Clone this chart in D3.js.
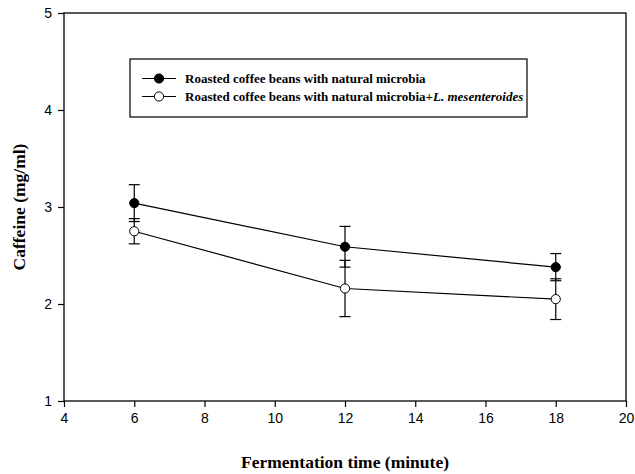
<!DOCTYPE html>
<html>
<head>
<meta charset="utf-8">
<script src="https://cdn.jsdelivr.net/npm/d3@7"></script>
<style>
  body { margin: 0; background: #fff; }
  svg { display: block; }
</style>
</head>
<body>
<div id="chart"></div>
<script>
// Input data for the chart
const times = [6, 12, 18];
const natural = [3.04, 2.59, 2.38];
const naturalErr = [0.19, 0.21, 0.14];
const mixed = [2.75, 2.16, 2.05];
const mixedErr = [0.13, 0.29, 0.21];
const xTicks = [4, 6, 8, 10, 12, 14, 16, 18, 20];
const yTicks = [1, 2, 3, 4, 5];

const width = 635;
const height = 474;
const margin = { top: 13, right: 9, bottom: 73, left: 64 };

const svg = d3.select("#chart")
  .append("svg")
  .attr("width", width)
  .attr("height", height);

const x = d3.scaleLinear().domain([4, 20]).range([margin.left, width - margin.right]);
const y = d3.scaleLinear().domain([1, 5]).range([height - margin.bottom, margin.top]);

// plot frame
svg.append("rect")
  .attr("x", margin.left)
  .attr("y", margin.top)
  .attr("width", x(20) - x(4))
  .attr("height", y(1) - y(5))
  .attr("fill", "none")
  .attr("stroke", "#000")
  .attr("stroke-width", 1.3);

// axes
const xAxis = svg.append("g")
  .attr("transform", `translate(0, ${y(1)})`)
  .call(d3.axisBottom(x).tickValues(xTicks).tickSize(6).tickPadding(6).tickFormat(d3.format("d")));
const yAxis = svg.append("g")
  .attr("transform", `translate(${x(4)}, 0)`)
  .call(d3.axisLeft(y).tickValues(yTicks).tickSize(6).tickPadding(6).tickFormat(d3.format("d")));

[xAxis, yAxis].forEach(g => {
  g.select(".domain").remove();
  g.selectAll(".tick line").attr("stroke", "#000").attr("stroke-width", 1.2);
  g.selectAll(".tick text")
    .attr("fill", "#000")
    .style("font-family", "'Liberation Sans', Arial, sans-serif")
    .style("font-size", "14px");
});

// axis titles
svg.append("text")
  .attr("x", (x(4) + x(20)) / 2)
  .attr("y", 468)
  .attr("text-anchor", "middle")
  .style("font-family", "'Liberation Serif', 'Times New Roman', serif")
  .style("font-weight", "bold")
  .style("font-size", "17.5px")
  .text("Fermentation time (minute)");

svg.append("text")
  .attr("transform", `translate(25, ${(y(1) + y(5)) / 2}) rotate(-90)`)
  .attr("text-anchor", "middle")
  .style("font-family", "'Liberation Serif', 'Times New Roman', serif")
  .style("font-weight", "bold")
  .style("font-size", "17.5px")
  .text("Caffeine (mg/ml)");

// function to draw one series with error bars
function drawSeries(values, errs, fill) {
  const pts = times.map((t, i) => ({ t: t, v: values[i], e: errs[i] }));
  const g = svg.append("g");

  g.append("path")
    .datum(pts)
    .attr("fill", "none")
    .attr("stroke", "#000")
    .attr("stroke-width", 1.2)
    .attr("d", d3.line().x(d => x(d.t)).y(d => y(d.v)));

  const eb = g.selectAll(".err").data(pts).enter().append("g");
  eb.append("line")
    .attr("x1", d => x(d.t)).attr("x2", d => x(d.t))
    .attr("y1", d => y(d.v - d.e)).attr("y2", d => y(d.v + d.e))
    .attr("stroke", "#000").attr("stroke-width", 1.2);
  [-1, 1].forEach(s => {
    eb.append("line")
      .attr("x1", d => x(d.t) - 5.5).attr("x2", d => x(d.t) + 5.5)
      .attr("y1", d => y(d.v + s * d.e)).attr("y2", d => y(d.v + s * d.e))
      .attr("stroke", "#000").attr("stroke-width", 1.2);
  });

  g.selectAll(".pt").data(pts).enter().append("circle")
    .attr("cx", d => x(d.t))
    .attr("cy", d => y(d.v))
    .attr("r", 4.6)
    .attr("fill", fill)
    .attr("stroke", "#000")
    .attr("stroke-width", 1);
}

drawSeries(mixed, mixedErr, "#fff");
drawSeries(natural, naturalErr, "#000");

// legend
const legend = svg.append("g");
legend.append("rect")
  .attr("x", 130).attr("y", 59)
  .attr("width", 397).attr("height", 58)
  .attr("fill", "#fff")
  .attr("stroke", "#000")
  .attr("stroke-width", 1.2);

const legendItems = [
  { fill: "#000", label: "Roasted coffee beans with natural microbia", italic: null },
  { fill: "#fff", label: "Roasted coffee beans with natural microbia+", italic: "L. mesenteroides" }
];
legendItems.forEach((d, i) => {
  const ly = 78.5 + i * 18;
  legend.append("line")
    .attr("x1", 142).attr("x2", 176)
    .attr("y1", ly).attr("y2", ly)
    .attr("stroke", "#000").attr("stroke-width", 1.2);
  legend.append("circle")
    .attr("cx", 159).attr("cy", ly).attr("r", 4.6)
    .attr("fill", d.fill).attr("stroke", "#000");
  const t = legend.append("text")
    .attr("x", 185).attr("y", ly + 4.5)
    .style("font-family", "'Liberation Serif', 'Times New Roman', serif")
    .style("font-weight", "bold")
    .style("font-size", "13px")
    .text(d.label);
  if (d.italic) {
    t.append("tspan").style("font-style", "italic").text(d.italic);
  }
});
</script>
</body>
</html>
